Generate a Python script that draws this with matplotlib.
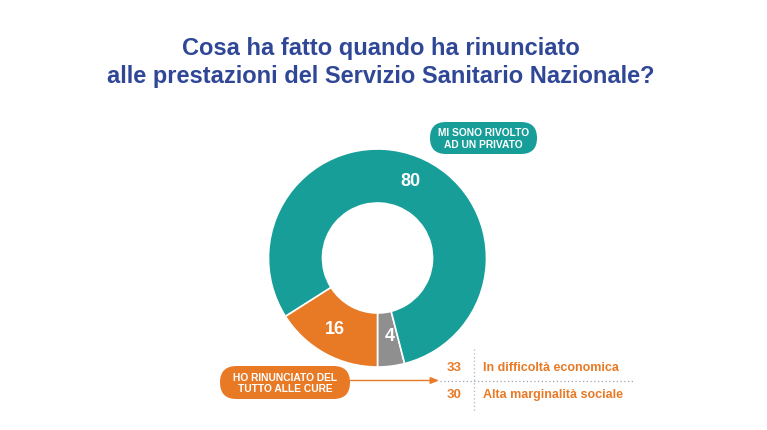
import matplotlib.pyplot as plt
from matplotlib.patches import FancyBboxPatch

# data
slice_values = [4, 80, 16]
slice_colors = ['#8f8f8f', '#179e99', '#e87a26']
sub_values = [33, 30]
sub_labels = ['In difficoltà economica', 'Alta marginalità sociale']
title_lines = ['Cosa ha fatto quando ha rinunciato',
               'alle prestazioni del Servizio Sanitario Nazionale?']
box_private = 'MI SONO RIVOLTO\nAD UN PRIVATO'
box_quit = 'HO RINUNCIATO DEL\nTUTTO ALLE CURE'

plt.rcParams['font.family'] = ['Liberation Sans', 'DejaVu Sans']

W, H = 767, 431
fig = plt.figure(figsize=(W / 100, H / 100), dpi=100)
ax = fig.add_axes([0, 0, 1, 1])

def py(y):
    # pixel y (from top) -> data y
    return H - y

cx, cy, r = 377.5, py(259), 109
ax.pie(slice_values, colors=slice_colors, startangle=-90, counterclock=True,
       center=(cx, cy), radius=r,
       wedgeprops=dict(width=54, edgecolor='white', linewidth=1.2))

ax.set_xlim(0, W)
ax.set_ylim(0, H)
ax.set_aspect('equal')
ax.axis('off')

# slice values
for v, (x, y) in zip(slice_values, [(390, 337), (410, 181), (335, 330)]):
    ax.text(x, py(y), str(v), color='white', fontsize=13, fontweight='bold',
            ha='center', va='center')

# title
for i, line in enumerate(title_lines):
    ax.text(381, py(48 + 29 * i), line, color='#2f4796', fontsize=17,
            fontweight='bold', ha='center', va='center')

# teal callout
ax.add_patch(FancyBboxPatch((430, py(155)), 107, 32,
                            boxstyle='round,pad=0,rounding_size=16',
                            fc=slice_colors[1], ec='none'))
ax.text(483.5, py(139), box_private, color='white', fontsize=7.4, fontweight='heavy',
        ha='center', va='center', linespacing=1.15)

# orange callout
ax.add_patch(FancyBboxPatch((220, py(400)), 130, 33,
                            boxstyle='round,pad=0,rounding_size=16.5',
                            fc=slice_colors[2], ec='none'))
ax.text(285, py(383.5), box_quit, color='white', fontsize=7.4, fontweight='heavy',
        ha='center', va='center', linespacing=1.15)

# arrow and dotted guides
ax.annotate('', xy=(439, py(381.5)), xytext=(350, py(381.5)),
            arrowprops=dict(arrowstyle='-|>,head_length=0.5,head_width=0.2',
                            color=slice_colors[2], lw=1.0, shrinkA=0, shrinkB=0))
ax.plot([440, 633], [py(382), py(382)], color='#9aa4b0', lw=0.9, ls=(0, (1, 2)))
ax.plot([474, 474], [py(350), py(412)], color='#b0b6bd', lw=0.9, ls=(0, (1, 2)))

for i, (v, lab) in enumerate(zip(sub_values, sub_labels)):
    y = py(368 + 27 * i)
    ax.text(462, y, str(v), color=slice_colors[2], fontsize=9.5, fontweight='bold',
            ha='right', va='center')
    ax.text(483, y, lab, color=slice_colors[2], fontsize=9, fontweight='bold',
            ha='left', va='center')

fig.savefig('out.png', dpi=100, facecolor='white')
